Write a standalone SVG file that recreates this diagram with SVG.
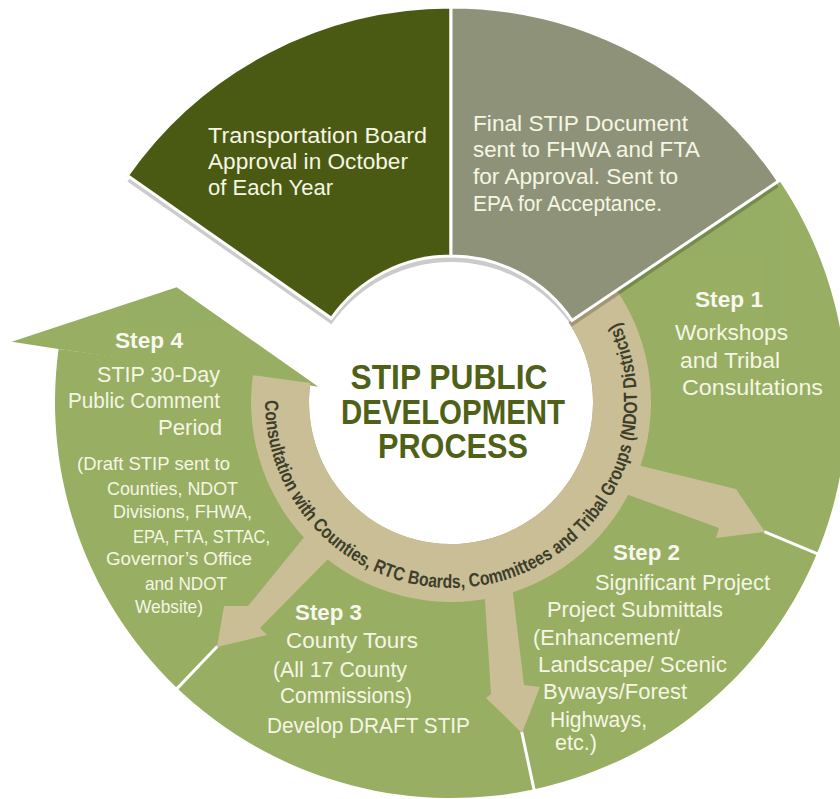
<svg xmlns="http://www.w3.org/2000/svg" xmlns:xlink="http://www.w3.org/1999/xlink" width="840" height="799" viewBox="0 0 840 799">
<style>
  .lbl { font-family: "Liberation Sans", Arial, sans-serif; fill: #f5f6e3; font-size: 22px; }
  .big { font-size: 22.5px; }
  .stp { font-weight: bold; font-size: 22px; fill: #f8f8ee; }
  .sm { font-size: 19px; }
  .title { font-family: "Liberation Sans", Arial, sans-serif; font-weight: bold; font-size: 35px; fill: #4f6017; text-anchor: middle; }
  .ringtxt { font-family: "Liberation Sans", Arial, sans-serif; font-weight: bold; font-size: 19px; fill: #3f3e2b; }
  .sep { stroke: #ffffff; stroke-width: 3; fill: none; }
  .tan { fill: #c9be95; }
  .green { fill: #97ae63; }
  .sector { stroke: #ffffff; stroke-width: 3; }
</style>
<defs>
  <path id="sectorDark" d="M 451 7 A 395 395 0 0 0 127.4 175.4 L 331.4 318.3 A 146 146 0 0 1 451 256 Z"/>
  <path id="sectorGray" d="M 451 7 A 395 395 0 0 1 778.5 181.1 L 572.0 320.4 A 146 146 0 0 0 451 256 Z"/>
  <path id="ringPath" d="M 265.0 400.4 A 186 186 0 1 0 616.0 316.1"/>
  <clipPath id="discClip"><circle cx="451" cy="402" r="394"/></clipPath>
</defs>
<rect width="840" height="799" fill="#ffffff"/>

<g id="steps-ring">
  <path class="green" d="M 779.3 180.6 A 396 396 0 1 1 58.6 348.9 L 310.3 383.0 A 142 142 0 1 0 568.7 322.6 Z"/>
  <polygon class="green" points="11.7,341.7 176.7,287.3 318.3,386.7 300,384 58.6,348.9"/>
  <line class="sep" x1="764.2" y1="531.7" x2="820.6" y2="555.1"/>
  <line class="sep" x1="521.6" y1="731.5" x2="534.8" y2="793.1"/>
  <line class="sep" x1="217.4" y1="646.3" x2="174.6" y2="691.1"/>
</g>

<g id="consultation-ring">
  <path class="tan" d="M 616.8 290.2 A 200 200 0 1 1 252.8 375.2 L 310.3 383.0 A 142 142 0 1 0 568.7 322.6 Z"/>
</g>

<g id="connectors">
  <path class="tan" d="M 625 462 L 736 489 L 765 532 L 716 538 L 719 528 L 615 490 Z"/>
  <path class="tan" d="M 484 585 L 491 694 L 486 698 L 522 733 L 540 687 L 524 685 L 512 585 Z"/>
  <path class="tan" d="M 310 530 L 248 606 L 224 606 L 217 647 L 267 635 L 260 628 L 334 553 Z"/>
</g>

<g id="consultation-label">
  <text class="ringtxt"><textPath href="#ringPath" xlink:href="#ringPath" textLength="668" lengthAdjust="spacingAndGlyphs">Consultation with Counties, RTC Boards, Committees and Tribal Groups (NDOT Districts)</textPath></text>
</g>

<g id="shadow" opacity="0.2" clip-path="url(#discClip)">
  <use href="#sectorDark" xlink:href="#sectorDark" transform="translate(0,6)" fill="#000000"/>
  <use href="#sectorGray" xlink:href="#sectorGray" transform="translate(0,6)" fill="#000000"/>
</g>

<g id="board-approval">
  <use href="#sectorDark" xlink:href="#sectorDark" class="sector" fill="#4b5a13"/>
  <text class="lbl big" x="208" y="143" textLength="219" lengthAdjust="spacingAndGlyphs">Transportation Board</text>
  <text class="lbl big" x="208" y="169" textLength="200" lengthAdjust="spacingAndGlyphs">Approval in October</text>
  <text class="lbl big" x="208" y="195" textLength="125" lengthAdjust="spacingAndGlyphs">of Each Year</text>
</g>

<g id="final-stip">
  <use href="#sectorGray" xlink:href="#sectorGray" class="sector" fill="#8e9279"/>
  <text class="lbl big" x="473" y="131" textLength="215" lengthAdjust="spacingAndGlyphs">Final STIP Document</text>
  <text class="lbl big" x="473" y="157" textLength="227" lengthAdjust="spacingAndGlyphs">sent to FHWA and FTA</text>
  <text class="lbl big" x="473" y="184" textLength="205" lengthAdjust="spacingAndGlyphs">for Approval. Sent to</text>
  <text class="lbl big" x="473" y="211" textLength="189" lengthAdjust="spacingAndGlyphs">EPA for Acceptance.</text>
</g>

<g id="step1">
  <text class="lbl stp" x="695" y="307" textLength="68" lengthAdjust="spacingAndGlyphs">Step 1</text>
  <text class="lbl" x="675" y="340" textLength="113" lengthAdjust="spacingAndGlyphs">Workshops</text>
  <text class="lbl" x="680" y="368" textLength="100" lengthAdjust="spacingAndGlyphs">and Tribal</text>
  <text class="lbl" x="682" y="395" textLength="141" lengthAdjust="spacingAndGlyphs">Consultations</text>
</g>

<g id="step2">
  <text class="lbl stp" x="613" y="560" textLength="67" lengthAdjust="spacingAndGlyphs">Step 2</text>
  <text class="lbl" x="595" y="590" textLength="175" lengthAdjust="spacingAndGlyphs">Significant Project</text>
  <text class="lbl" x="547" y="617" textLength="176" lengthAdjust="spacingAndGlyphs">Project Submittals</text>
  <text class="lbl" x="533" y="645" textLength="147" lengthAdjust="spacingAndGlyphs">(Enhancement/</text>
  <text class="lbl" x="538" y="672" textLength="189" lengthAdjust="spacingAndGlyphs">Landscape/ Scenic</text>
  <text class="lbl" x="543" y="699" textLength="144" lengthAdjust="spacingAndGlyphs">Byways/Forest</text>
  <text class="lbl" x="550" y="727" textLength="97" lengthAdjust="spacingAndGlyphs">Highways,</text>
  <text class="lbl" x="555" y="750" textLength="42" lengthAdjust="spacingAndGlyphs">etc.)</text>
</g>

<g id="step3">
  <text class="lbl stp" x="295" y="620" textLength="67" lengthAdjust="spacingAndGlyphs">Step 3</text>
  <text class="lbl" x="286" y="648" textLength="132" lengthAdjust="spacingAndGlyphs">County Tours</text>
  <text class="lbl" x="273" y="677" textLength="134" lengthAdjust="spacingAndGlyphs">(All 17 County</text>
  <text class="lbl" x="280" y="703" textLength="132" lengthAdjust="spacingAndGlyphs">Commissions)</text>
  <text class="lbl" x="267" y="733" textLength="203" lengthAdjust="spacingAndGlyphs">Develop DRAFT STIP</text>
</g>

<g id="step4">
  <text class="lbl stp" x="115" y="348" textLength="68" lengthAdjust="spacingAndGlyphs">Step 4</text>
  <text class="lbl" x="97" y="382" textLength="123" lengthAdjust="spacingAndGlyphs">STIP 30-Day</text>
  <text class="lbl" x="68" y="408" textLength="152" lengthAdjust="spacingAndGlyphs">Public Comment</text>
  <text class="lbl" x="158" y="435" textLength="64" lengthAdjust="spacingAndGlyphs">Period</text>
  <text class="lbl sm" x="77" y="470" textLength="153" lengthAdjust="spacingAndGlyphs">(Draft STIP sent to</text>
  <text class="lbl sm" x="107" y="495" textLength="131" lengthAdjust="spacingAndGlyphs">Counties, NDOT</text>
  <text class="lbl sm" x="113" y="518" textLength="139" lengthAdjust="spacingAndGlyphs">Divisions, FHWA,</text>
  <text class="lbl sm" x="133" y="543" textLength="137" lengthAdjust="spacingAndGlyphs">EPA, FTA, STTAC,</text>
  <text class="lbl sm" x="106" y="565" textLength="146" lengthAdjust="spacingAndGlyphs">Governor’s Office</text>
  <text class="lbl sm" x="145" y="590" textLength="82" lengthAdjust="spacingAndGlyphs">and NDOT</text>
  <text class="lbl sm" x="135" y="613" textLength="68" lengthAdjust="spacingAndGlyphs">Website)</text>
</g>

<g id="title">
  <text class="title" x="449" y="389" textLength="197" lengthAdjust="spacingAndGlyphs">STIP PUBLIC</text>
  <text class="title" x="453" y="424" textLength="224" lengthAdjust="spacingAndGlyphs">DEVELOPMENT</text>
  <text class="title" x="453" y="458" textLength="150" lengthAdjust="spacingAndGlyphs">PROCESS</text>
</g>
</svg>
